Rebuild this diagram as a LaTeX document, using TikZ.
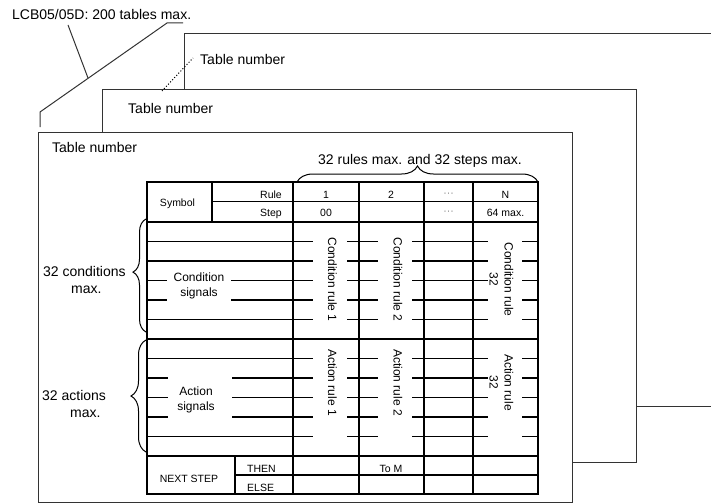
\documentclass[tikz,border=0pt]{standalone}
\usepackage{fontspec}
\setmainfont{Liberation Sans}
\usetikzlibrary{decorations.pathreplacing}
\begin{document}
\begin{tikzpicture}[x=1pt,y=-1pt,
  sheet/.style={line width=1pt, draw=black!80},
  tborder/.style={line width=2.5pt},
  tcol/.style={line width=1.8pt},
  trow/.style={line width=1.3pt},
  big/.style={font=\fontsize{14}{17}\selectfont, inner sep=0pt},
  mid/.style={font=\fontsize{12}{15}\selectfont, inner sep=0pt, align=center},
  small/.style={font=\fontsize{10.5}{12}\selectfont, inner sep=0pt},
  brc/.style={decorate, decoration={brace, amplitude=#1}, line width=1pt},
]
\useasboundingbox (0,0) rectangle (711,503);

% ---------- stacked sheets ----------
\draw[sheet] (184,89) -- (184,34) -- (711,34);
\draw[sheet] (636,406) -- (711,406);
\draw[sheet] (102,132) -- (102,89) -- (636,89) -- (636,462) -- (572,462);
\draw[sheet] (38,132) rectangle (572,502);

% ---------- top label and stack outline ----------
\node[big, anchor=base west] (lcb) at (12,19.3) {LCB05/05D: 200 tables max.};
\coordinate (lcbfoot) at (68,25);
\coordinate (lead) at (88,78);
\draw[sheet] (183,23) -- (167,23) -- (40,112) -- (40,127);
\draw[sheet] (lcbfoot) -- (lead);

\node[big, anchor=base west] (tn3) at (200,64.3) {Table number};
\coordinate (dotend) at (162,91);
\draw[line width=1pt, dotted] (dotend) -- (193,58);
\node[big, anchor=base west] (tn2) at (128,113) {Table number};
\node[big, anchor=base west] (tn1) at (52,152) {Table number};

% ---------- table grid ----------
% row lines, condition part
\foreach \y in {241.5,261,319.5,358.5,436.5}
  \draw[trow] (147,\y) -- (293,\y);
\foreach \y in {280.5,300}
  { \draw[trow] (147,\y) -- (167,\y); \draw[trow] (231,\y) -- (293,\y); }
\foreach \y in {378,397.5,417}
  { \draw[trow] (147,\y) -- (168,\y); \draw[trow] (232,\y) -- (293,\y); }
\foreach \y in {241.5,261,280.5,300,319.5,358.5,378,397.5,417,436.5}
  { \draw[trow] (293,\y) -- (313,\y);
    \draw[trow] (347,\y) -- (378,\y);
    \draw[trow] (412,\y) -- (488,\y);
    \draw[trow] (522,\y) -- (538,\y); }
\draw[trow] (212,201.5) -- (538,201.5);
\draw[trow] (235,475) -- (538,475);

% columns
\foreach \x in {359,424,473}
  \draw[tcol] (\x,182) -- (\x,494);
\draw[tcol] (212,182) -- (212,222);
\draw[tcol] (235,456) -- (235,494);

% major separators and border
\draw[tborder] (293,182) -- (293,494);
\foreach \y in {222,339,456}
  \draw[tborder] (147,\y) -- (538,\y);
\draw[tborder] (147,182) rectangle (538,494);

% ---------- header texts ----------
\node[small, anchor=base] (sym) at (177.5,206) {Symbol};
\node[small, anchor=base east] (rule) at (282,198) {Rule};
\node[small, anchor=base east] (step) at (282,216.5) {Step};
\node[small, anchor=base] (r1) at (326,198) {1};
\node[small, anchor=base] (r2) at (391,198) {2};
\node[small, anchor=base, text=black!50] (rd) at (448.5,196) {···};
\node[small, anchor=base] (rn) at (505.5,198) {N};
\node[small, anchor=base] (s1) at (326,216.5) {00};
\node[small, anchor=base, text=black!50] (sd) at (448.5,214.5) {···};
\node[small, anchor=base] (sn) at (505.5,216.5) {64 max.};

% ---------- body texts ----------
\node[mid] (csig) at (199,286) {Condition\\signals};
\node[mid] (asig) at (196,400) {Action\\signals};
\node[mid, rotate=-90] (cr1) at (332.5,279.5) {Condition rule 1};
\node[mid, rotate=-90] (cr2) at (398,279.5) {Condition rule 2};
\node[mid, rotate=-90] (cr32) at (501.5,279.5) {Condition rule\\32};
\node[mid, rotate=-90] (ar1) at (332.5,382.5) {Action rule 1};
\node[mid, rotate=-90] (ar2) at (398,382.5) {Action rule 2};
\node[mid, rotate=-90] (ar32) at (501.5,382.5) {Action rule\\32};

\node[small, anchor=base] (ns) at (189,482) {NEXT STEP};
\node[small, anchor=base west] (then) at (247,472) {THEN};
\node[small, anchor=base west] (else) at (247,491) {ELSE};
\node[small, anchor=base] (tom) at (391,472) {To M};

% ---------- braces and side labels ----------
\draw[brc=16] (297,182) -- (538,182);
\node[big, anchor=base] (rmax) at (420,164) {32 rules max. and 32 steps max.};

\draw[brc=13, decoration={aspect=0.53}] (146,332) -- (146,219);
\node[big, anchor=base west] (cmax1) at (43,276) {32 conditions};
\node[big, anchor=base west] (cmax2) at (71,293) {max.};

\draw[brc=15] (146,452) -- (146,340);
\node[big, anchor=base west] (amax1) at (42,400) {32 actions};
\node[big, anchor=base west] (amax2) at (70,417) {max.};
\end{tikzpicture}
\end{document}
